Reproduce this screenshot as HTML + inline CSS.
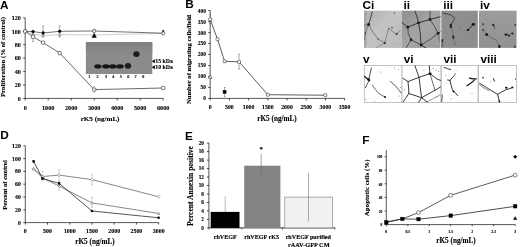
<!DOCTYPE html>
<html><head><meta charset="utf-8"><title>Figure</title>
<style>
html,body{margin:0;padding:0;background:#fff;}
svg{display:block;filter:blur(0.35px);}
.s{font-family:"Liberation Serif",serif;font-weight:bold;stroke:#000;stroke-width:0.12px;}
.h{font-family:"Liberation Sans",sans-serif;font-weight:bold;}
</style></head><body>
<svg width="520" height="247" viewBox="0 0 520 247">
<rect width="520" height="247" fill="#fff"/>
<defs><linearGradient id="gg" x1="0" y1="0" x2="0" y2="1"><stop offset="0" stop-color="#808080"/><stop offset="1" stop-color="#8c8c8c"/></linearGradient></defs>
<text x="0.1" y="8.6" font-size="11.8" text-anchor="start" class="h" >A</text>
<line x1="25.2" y1="17.9" x2="25.2" y2="98.4" stroke="#222" stroke-width="0.75" />
<line x1="23.2" y1="98.4" x2="25.2" y2="98.4" stroke="#000" stroke-width="0.7" />
<text x="20.8" y="100.7" font-size="6.1" text-anchor="end" class="s" >0</text>
<line x1="23.2" y1="85.0" x2="25.2" y2="85.0" stroke="#000" stroke-width="0.7" />
<text x="20.8" y="87.3" font-size="6.1" text-anchor="end" class="s" >20</text>
<line x1="23.2" y1="71.6" x2="25.2" y2="71.6" stroke="#000" stroke-width="0.7" />
<text x="20.8" y="73.9" font-size="6.1" text-anchor="end" class="s" >40</text>
<line x1="23.2" y1="58.1" x2="25.2" y2="58.1" stroke="#000" stroke-width="0.7" />
<text x="20.8" y="60.4" font-size="6.1" text-anchor="end" class="s" >60</text>
<line x1="23.2" y1="44.7" x2="25.2" y2="44.7" stroke="#000" stroke-width="0.7" />
<text x="20.8" y="47.0" font-size="6.1" text-anchor="end" class="s" >80</text>
<line x1="23.2" y1="31.3" x2="25.2" y2="31.3" stroke="#000" stroke-width="0.7" />
<text x="20.8" y="33.6" font-size="6.1" text-anchor="end" class="s" >100</text>
<line x1="23.2" y1="17.9" x2="25.2" y2="17.9" stroke="#000" stroke-width="0.7" />
<text x="20.8" y="20.2" font-size="6.1" text-anchor="end" class="s" >120</text>
<line x1="25.2" y1="98.4" x2="163.2" y2="98.4" stroke="#222" stroke-width="0.75" />
<line x1="25.2" y1="98.4" x2="25.2" y2="100.4" stroke="#000" stroke-width="0.7" />
<text x="25.2" y="110.0" font-size="6.2" text-anchor="middle" class="s" >0</text>
<line x1="48.2" y1="98.4" x2="48.2" y2="100.4" stroke="#000" stroke-width="0.7" />
<text x="48.2" y="110.0" font-size="6.2" text-anchor="middle" class="s" >1000</text>
<line x1="71.2" y1="98.4" x2="71.2" y2="100.4" stroke="#000" stroke-width="0.7" />
<text x="71.2" y="110.0" font-size="6.2" text-anchor="middle" class="s" >2000</text>
<line x1="94.2" y1="98.4" x2="94.2" y2="100.4" stroke="#000" stroke-width="0.7" />
<text x="94.2" y="110.0" font-size="6.2" text-anchor="middle" class="s" >3000</text>
<line x1="117.2" y1="98.4" x2="117.2" y2="100.4" stroke="#000" stroke-width="0.7" />
<text x="117.2" y="110.0" font-size="6.2" text-anchor="middle" class="s" >4000</text>
<line x1="140.2" y1="98.4" x2="140.2" y2="100.4" stroke="#000" stroke-width="0.7" />
<text x="140.2" y="110.0" font-size="6.2" text-anchor="middle" class="s" >5000</text>
<line x1="163.2" y1="98.4" x2="163.2" y2="100.4" stroke="#000" stroke-width="0.7" />
<text x="163.2" y="110.0" font-size="6.2" text-anchor="middle" class="s" >6000</text>
<text transform="translate(4.9,57.0) rotate(-90)" font-size="6.8" text-anchor="middle" class="s">Proliferation (% of control)</text>
<text x="100.1" y="121.3" font-size="7.1" text-anchor="middle" class="s" >rK5 (ng/mL)</text>
<rect x="85.9" y="42.2" width="66.4" height="31.8" fill="#8b8b8b"/>
<rect x="85.9" y="42.2" width="66.4" height="12" fill="url(#gg)"/>
<ellipse cx="97.9" cy="66.4" rx="3.5999999999999996" ry="2.1" fill="#151515"/>
<ellipse cx="105.9" cy="66.4" rx="3.6999999999999997" ry="2.1" fill="#151515"/>
<ellipse cx="112.8" cy="66.4" rx="3.6999999999999997" ry="2.1" fill="#151515"/>
<ellipse cx="120" cy="66.4" rx="3.8" ry="2.1" fill="#151515"/>
<ellipse cx="128" cy="65.8" rx="3.2" ry="2.9" fill="#1c1c1c"/>
<ellipse cx="136.4" cy="54.1" rx="3.2" ry="2.9" fill="#1c1c1c"/>
<text x="89.4" y="77.9" font-size="4.2" text-anchor="middle" class="s" >1</text>
<text x="97.5" y="77.9" font-size="4.2" text-anchor="middle" class="s" >2</text>
<text x="106.1" y="77.9" font-size="4.2" text-anchor="middle" class="s" >3</text>
<text x="113.2" y="77.9" font-size="4.2" text-anchor="middle" class="s" >4</text>
<text x="120.9" y="77.9" font-size="4.2" text-anchor="middle" class="s" >5</text>
<text x="128.2" y="77.9" font-size="4.2" text-anchor="middle" class="s" >6</text>
<text x="135.5" y="77.9" font-size="4.2" text-anchor="middle" class="s" >7</text>
<text x="143.2" y="77.9" font-size="4.2" text-anchor="middle" class="s" >8</text>
<polygon points="151.9,61.2 154.9,59.2 154.9,63.2" fill="#000"/>
<polygon points="151.9,67.3 154.9,65.3 154.9,69.3" fill="#000"/>
<text x="155.3" y="63.1" font-size="5.8" text-anchor="start" class="s" >15 kDa</text>
<text x="155.3" y="69.2" font-size="5.8" text-anchor="start" class="s" >10 kDa</text>
<polyline points="25.2,31.3 33.0,34.2 43.1,35.6 59.7,34.6 94.2,35.0 163.2,33.4" fill="none" stroke="#aaa" stroke-width="0.6" stroke-linejoin="round" stroke-linecap="round" />
<line x1="43.1" y1="26.0" x2="43.1" y2="37.0" stroke="#555" stroke-width="0.5" />
<line x1="42.2" y1="26.0" x2="44.0" y2="26.0" stroke="#555" stroke-width="0.5" />
<line x1="42.2" y1="37.0" x2="44.0" y2="37.0" stroke="#555" stroke-width="0.5" />
<line x1="59.7" y1="26.0" x2="59.7" y2="37.0" stroke="#555" stroke-width="0.5" />
<line x1="58.8" y1="26.0" x2="60.6" y2="26.0" stroke="#555" stroke-width="0.5" />
<line x1="58.8" y1="37.0" x2="60.6" y2="37.0" stroke="#555" stroke-width="0.5" />
<line x1="33.0" y1="33.0" x2="33.0" y2="41.5" stroke="#555" stroke-width="0.5" />
<line x1="32.1" y1="33.0" x2="33.9" y2="33.0" stroke="#555" stroke-width="0.5" />
<line x1="32.1" y1="41.5" x2="33.9" y2="41.5" stroke="#555" stroke-width="0.5" />
<line x1="94.2" y1="29.0" x2="94.2" y2="34.0" stroke="#888" stroke-width="0.5" />
<line x1="93.3" y1="29.0" x2="95.1" y2="29.0" stroke="#888" stroke-width="0.5" />
<line x1="93.3" y1="34.0" x2="95.1" y2="34.0" stroke="#888" stroke-width="0.5" />
<polyline points="25.2,31.3 33.0,31.6 43.1,33.0 59.7,31.3 94.2,31.0 163.2,33.2" fill="none" stroke="#333" stroke-width="0.7" stroke-linejoin="round" stroke-linecap="round" />
<line x1="94.2" y1="86.0" x2="94.2" y2="93.0" stroke="#999" stroke-width="0.5" />
<line x1="93.3" y1="86.0" x2="95.1" y2="86.0" stroke="#999" stroke-width="0.5" />
<line x1="93.3" y1="93.0" x2="95.1" y2="93.0" stroke="#999" stroke-width="0.5" />
<polyline points="25.2,31.3 33.0,36.8 43.1,42.6 59.7,53.1 94.2,89.6 163.2,88.0" fill="none" stroke="#3a3a3a" stroke-width="0.75" stroke-linejoin="round" stroke-linecap="round" />
<polygon points="25.2,29.9 23.8,32.4 26.6,32.4" fill="#ddd" stroke="#777" stroke-width="0.5"/>
<polygon points="33.0,32.8 31.6,35.3 34.4,35.3" fill="#ddd" stroke="#777" stroke-width="0.5"/>
<polygon points="43.1,34.2 41.7,36.7 44.5,36.7" fill="#ddd" stroke="#777" stroke-width="0.5"/>
<polygon points="59.7,33.2 58.3,35.7 61.1,35.7" fill="#ddd" stroke="#777" stroke-width="0.5"/>
<circle cx="25.2" cy="31.3" r="1.4" fill="#000" stroke="#000" stroke-width="0.4"/>
<circle cx="33.0" cy="31.6" r="1.4" fill="#000" stroke="#000" stroke-width="0.4"/>
<circle cx="43.1" cy="33.0" r="1.4" fill="#000" stroke="#000" stroke-width="0.4"/>
<circle cx="59.7" cy="31.3" r="1.4" fill="#000" stroke="#000" stroke-width="0.4"/>
<circle cx="94.2" cy="31.0" r="1.6" fill="#fff" stroke="#222" stroke-width="0.6"/>
<circle cx="163.2" cy="33.4" r="1.6" fill="#fff" stroke="#222" stroke-width="0.6"/>
<circle cx="163.2" cy="30.9" r="0.9" fill="#222" stroke="#222" stroke-width="0.4"/>
<polygon points="94.2,33.4 92.0,37.4 96.4,37.4" fill="#000" stroke="#000" stroke-width="0.5"/>
<rect x="23.6" y="29.7" width="3.2" height="3.2" rx="0.7" fill="#fff" stroke="#222" stroke-width="0.6"/>
<rect x="31.4" y="35.2" width="3.2" height="3.2" rx="0.7" fill="#fff" stroke="#222" stroke-width="0.6"/>
<rect x="41.5" y="41.0" width="3.2" height="3.2" rx="0.7" fill="#fff" stroke="#222" stroke-width="0.6"/>
<rect x="58.1" y="51.5" width="3.2" height="3.2" rx="0.7" fill="#fff" stroke="#222" stroke-width="0.6"/>
<rect x="92.6" y="88.0" width="3.2" height="3.2" rx="0.7" fill="#fff" stroke="#222" stroke-width="0.6"/>
<rect x="161.6" y="86.4" width="3.2" height="3.2" rx="0.7" fill="#fff" stroke="#222" stroke-width="0.6"/>
<text x="185.2" y="8.2" font-size="11.8" text-anchor="start" class="h" >B</text>
<line x1="210.2" y1="10.6" x2="210.2" y2="98.4" stroke="#222" stroke-width="0.75" />
<line x1="208.2" y1="98.4" x2="210.2" y2="98.4" stroke="#000" stroke-width="0.7" />
<text x="205.9" y="100.3" font-size="5.4" text-anchor="end" class="s" >0</text>
<line x1="208.2" y1="87.4" x2="210.2" y2="87.4" stroke="#000" stroke-width="0.7" />
<text x="205.9" y="89.3" font-size="5.4" text-anchor="end" class="s" >50</text>
<line x1="208.2" y1="76.5" x2="210.2" y2="76.5" stroke="#000" stroke-width="0.7" />
<text x="205.9" y="78.4" font-size="5.4" text-anchor="end" class="s" >100</text>
<line x1="208.2" y1="65.5" x2="210.2" y2="65.5" stroke="#000" stroke-width="0.7" />
<text x="205.9" y="67.4" font-size="5.4" text-anchor="end" class="s" >150</text>
<line x1="208.2" y1="54.5" x2="210.2" y2="54.5" stroke="#000" stroke-width="0.7" />
<text x="205.9" y="56.4" font-size="5.4" text-anchor="end" class="s" >200</text>
<line x1="208.2" y1="43.5" x2="210.2" y2="43.5" stroke="#000" stroke-width="0.7" />
<text x="205.9" y="45.4" font-size="5.4" text-anchor="end" class="s" >250</text>
<line x1="208.2" y1="32.6" x2="210.2" y2="32.6" stroke="#000" stroke-width="0.7" />
<text x="205.9" y="34.5" font-size="5.4" text-anchor="end" class="s" >300</text>
<line x1="208.2" y1="21.6" x2="210.2" y2="21.6" stroke="#000" stroke-width="0.7" />
<text x="205.9" y="23.5" font-size="5.4" text-anchor="end" class="s" >350</text>
<line x1="208.2" y1="10.6" x2="210.2" y2="10.6" stroke="#000" stroke-width="0.7" />
<text x="205.9" y="12.5" font-size="5.4" text-anchor="end" class="s" >400</text>
<line x1="210.2" y1="98.4" x2="344.6" y2="98.4" stroke="#222" stroke-width="0.75" />
<line x1="210.2" y1="98.4" x2="210.2" y2="100.4" stroke="#000" stroke-width="0.7" />
<text x="210.2" y="109.4" font-size="5.8" text-anchor="middle" class="s" >0</text>
<line x1="229.4" y1="98.4" x2="229.4" y2="100.4" stroke="#000" stroke-width="0.7" />
<text x="229.4" y="109.4" font-size="5.8" text-anchor="middle" class="s" >500</text>
<line x1="248.6" y1="98.4" x2="248.6" y2="100.4" stroke="#000" stroke-width="0.7" />
<text x="248.6" y="109.4" font-size="5.8" text-anchor="middle" class="s" >1000</text>
<line x1="267.8" y1="98.4" x2="267.8" y2="100.4" stroke="#000" stroke-width="0.7" />
<text x="267.8" y="109.4" font-size="5.8" text-anchor="middle" class="s" >1500</text>
<line x1="287.0" y1="98.4" x2="287.0" y2="100.4" stroke="#000" stroke-width="0.7" />
<text x="287.0" y="109.4" font-size="5.8" text-anchor="middle" class="s" >2000</text>
<line x1="306.2" y1="98.4" x2="306.2" y2="100.4" stroke="#000" stroke-width="0.7" />
<text x="306.2" y="109.4" font-size="5.8" text-anchor="middle" class="s" >2500</text>
<line x1="325.4" y1="98.4" x2="325.4" y2="100.4" stroke="#000" stroke-width="0.7" />
<text x="325.4" y="109.4" font-size="5.8" text-anchor="middle" class="s" >3000</text>
<line x1="344.6" y1="98.4" x2="344.6" y2="100.4" stroke="#000" stroke-width="0.7" />
<text x="344.6" y="109.4" font-size="5.8" text-anchor="middle" class="s" >3500</text>
<text transform="translate(191.0,59.4) rotate(-90)" font-size="6.7" text-anchor="middle" class="s">Number of migrating cells/field</text>
<text x="277.0" y="121.2" font-size="7.2" text-anchor="middle" class="s" >rK5 (ng/mL)</text>
<line x1="239.0" y1="54.0" x2="239.0" y2="69.0" stroke="#555" stroke-width="0.5" />
<line x1="238.1" y1="54.0" x2="239.9" y2="54.0" stroke="#555" stroke-width="0.5" />
<line x1="238.1" y1="69.0" x2="239.9" y2="69.0" stroke="#555" stroke-width="0.5" />
<line x1="210.2" y1="14.5" x2="210.2" y2="24.0" stroke="#666" stroke-width="0.5" />
<line x1="209.3" y1="14.5" x2="211.1" y2="14.5" stroke="#666" stroke-width="0.5" />
<line x1="209.3" y1="24.0" x2="211.1" y2="24.0" stroke="#666" stroke-width="0.5" />
<polyline points="210.2,19.3 217.5,39.2 224.6,61.3 239.0,61.8 267.8,94.7 325.4,95.2" fill="none" stroke="#333" stroke-width="0.8" stroke-linejoin="round" stroke-linecap="round" />
<rect x="208.7" y="17.8" width="3.0" height="3.0" rx="0.7" fill="#fff" stroke="#333" stroke-width="0.6"/>
<rect x="216.0" y="37.7" width="3.0" height="3.0" rx="0.7" fill="#fff" stroke="#333" stroke-width="0.6"/>
<rect x="223.1" y="59.8" width="3.0" height="3.0" rx="0.7" fill="#fff" stroke="#333" stroke-width="0.6"/>
<rect x="237.5" y="60.3" width="3.0" height="3.0" rx="0.7" fill="#fff" stroke="#333" stroke-width="0.6"/>
<rect x="266.3" y="93.2" width="3.0" height="3.0" rx="0.7" fill="#fff" stroke="#333" stroke-width="0.6"/>
<rect x="323.9" y="93.7" width="3.0" height="3.0" rx="0.7" fill="#fff" stroke="#333" stroke-width="0.6"/>
<polygon points="210.2,75.0 208.4,78.2 212.0,78.2" fill="#fff" stroke="#333" stroke-width="0.6"/>
<line x1="224.6" y1="87.5" x2="224.6" y2="96.5" stroke="#555" stroke-width="0.5" />
<line x1="223.7" y1="87.5" x2="225.5" y2="87.5" stroke="#555" stroke-width="0.5" />
<line x1="223.7" y1="96.5" x2="225.5" y2="96.5" stroke="#555" stroke-width="0.5" />
<rect x="223.1" y="90.4" width="3.0" height="3.0" fill="#000" stroke="#000" stroke-width="0.5"/>
<text x="362.6" y="9.1" font-size="11.8" text-anchor="start" class="h" >Ci</text>
<text x="403.4" y="9.1" font-size="11.8" text-anchor="start" class="h" >ii</text>
<text x="443.2" y="9.1" font-size="11.8" text-anchor="start" class="h" >iii</text>
<text x="480.1" y="9.1" font-size="11.8" text-anchor="start" class="h" >iv</text>
<text x="362.9" y="62.7" font-size="11.8" text-anchor="start" class="h" >v</text>
<text x="403.8" y="62.7" font-size="11.8" text-anchor="start" class="h" >vi</text>
<text x="443.5" y="62.7" font-size="11.8" text-anchor="start" class="h" >vii</text>
<text x="480.4" y="62.7" font-size="11.8" text-anchor="start" class="h" >viii</text>
<defs>
<linearGradient id="g1" x1="0" y1="0" x2="1" y2="1"><stop offset="0" stop-color="#adadad"/><stop offset="0.45" stop-color="#c4c4c4"/><stop offset="1" stop-color="#b9b9b9"/></linearGradient>
<linearGradient id="g2" x1="0" y1="0" x2="1" y2="1"><stop offset="0" stop-color="#8e8e8e"/><stop offset="0.5" stop-color="#a5a5a5"/><stop offset="1" stop-color="#9b9b9b"/></linearGradient>
<linearGradient id="g4" x1="0" y1="0" x2="0" y2="1"><stop offset="0" stop-color="#9c9c9c"/><stop offset="1" stop-color="#919191"/></linearGradient>
<filter id="bl" x="-5%" y="-5%" width="110%" height="110%"><feGaussianBlur stdDeviation="0.45"/></filter>
<clipPath id="c1"><rect x="364" y="10.7" width="37.8" height="37.2"/></clipPath>
<clipPath id="c2"><rect x="401.8" y="10.7" width="38.7" height="37.2"/></clipPath>
<clipPath id="c3"><rect x="441.3" y="10.7" width="36.5" height="37.2"/></clipPath>
<clipPath id="c4"><rect x="478.9" y="10.7" width="37.7" height="37.2"/></clipPath>
<clipPath id="c5"><rect x="364" y="65.5" width="38" height="37"/></clipPath>
<clipPath id="c6"><rect x="402" y="65.5" width="38.8" height="37"/></clipPath>
<clipPath id="c7"><rect x="441.3" y="65.5" width="36.7" height="37"/></clipPath>
<clipPath id="c8"><rect x="478.9" y="65.5" width="37.7" height="37"/></clipPath>
</defs>
<rect x="364" y="10.7" width="37.8" height="37.2" fill="url(#g1)"/>
<rect x="401.8" y="10.7" width="38.7" height="37.2" fill="url(#g2)"/>
<rect x="441.3" y="10.7" width="36.5" height="37.2" fill="#8e8e8e"/>
<rect x="478.9" y="10.7" width="37.7" height="37.2" fill="url(#g4)"/>
<g clip-path="url(#c1)" filter="url(#bl)">
<rect x="364" y="10.7" width="2.5" height="37.2" fill="#999" opacity="0.55"/>
<polyline points="372.2,12.0 370.3,19.0 368.6,24.4" fill="none" stroke="#444" stroke-width="1.0" stroke-linejoin="round" stroke-linecap="round" />
<polyline points="368.6,24.4 366.8,29.0 365.2,33.3 364.6,40.0" fill="none" stroke="#666" stroke-width="0.8" stroke-linejoin="round" stroke-linecap="round" />
<polyline points="368.6,24.4 371.5,30.0 375.0,35.0 378.2,39.0 384.7,43.0" fill="none" stroke="#707070" stroke-width="0.8" stroke-linejoin="round" stroke-linecap="round" />
<polyline points="384.7,43.0 386.8,35.0 388.7,28.4" fill="none" stroke="#777" stroke-width="0.8" stroke-linejoin="round" stroke-linecap="round" />
<polyline points="388.7,28.4 392.5,31.5 396.8,34.1 400.0,30.5" fill="none" stroke="#707070" stroke-width="0.8" stroke-linejoin="round" stroke-linecap="round" />
<polyline points="384.7,43.0 380.0,45.5 376.0,48.0" fill="none" stroke="#808080" stroke-width="0.7" stroke-linejoin="round" stroke-linecap="round" />
<polyline points="364.0,25.5 368.6,24.4" fill="none" stroke="#666" stroke-width="0.8" stroke-linejoin="round" stroke-linecap="round" />
<ellipse cx="368.6" cy="24.4" rx="1.4" ry="1.7" fill="#1a1a1a"/>
<ellipse cx="384.7" cy="43.0" rx="1.1" ry="1.1" fill="#222"/>
<ellipse cx="396.8" cy="34.1" rx="1.2" ry="1.0" fill="#444"/>
<ellipse cx="394.4" cy="13.2" rx="0.8" ry="0.8" fill="#555"/>
<ellipse cx="365.4" cy="33.0" rx="0.8" ry="1.2" fill="#555"/>
<ellipse cx="378.0" cy="39.0" rx="0.8" ry="0.8" fill="#555"/>
<ellipse cx="392.0" cy="27.6" rx="0.9" ry="0.9" fill="#555"/>
<ellipse cx="366.0" cy="43.0" rx="0.7" ry="0.7" fill="#888"/>
<ellipse cx="388.7" cy="28.4" rx="0.7" ry="0.7" fill="#666"/>
</g>
<g clip-path="url(#c2)" filter="url(#bl)">
<polyline points="402.0,22.5 407.8,27.2 418.6,22.8 430.0,19.5 441.0,16.5" fill="none" stroke="#333" stroke-width="1.0" stroke-linejoin="round" stroke-linecap="round" />
<polyline points="414.9,11.0 417.0,17.0 418.6,22.8 420.2,33.0 421.1,45.0" fill="none" stroke="#3a3a3a" stroke-width="1.0" stroke-linejoin="round" stroke-linecap="round" />
<polyline points="407.8,27.2 408.2,33.3 411.0,39.8 406.5,47.5" fill="none" stroke="#444" stroke-width="0.9" stroke-linejoin="round" stroke-linecap="round" />
<polyline points="411.0,39.8 421.1,45.0 430.8,39.0 438.1,33.3 441.0,31.0" fill="none" stroke="#444" stroke-width="0.9" stroke-linejoin="round" stroke-linecap="round" />
<polyline points="430.0,19.5 434.8,26.8 438.1,33.3" fill="none" stroke="#444" stroke-width="0.9" stroke-linejoin="round" stroke-linecap="round" />
<polyline points="430.0,11.0 430.0,19.5" fill="none" stroke="#444" stroke-width="0.9" stroke-linejoin="round" stroke-linecap="round" />
<polyline points="421.1,45.0 426.0,48.0" fill="none" stroke="#333" stroke-width="1.0" stroke-linejoin="round" stroke-linecap="round" />
<polyline points="438.1,33.3 440.0,42.0" fill="none" stroke="#666" stroke-width="0.7" stroke-linejoin="round" stroke-linecap="round" />
<ellipse cx="407.8" cy="27.2" rx="1.4" ry="1.4" fill="#1a1a1a"/>
<ellipse cx="418.6" cy="22.8" rx="1.4" ry="1.4" fill="#1a1a1a"/>
<ellipse cx="430.0" cy="19.5" rx="1.4" ry="1.4" fill="#1a1a1a"/>
<ellipse cx="438.1" cy="33.3" rx="1.4" ry="1.4" fill="#1a1a1a"/>
<ellipse cx="421.1" cy="45.0" rx="1.4" ry="1.4" fill="#1a1a1a"/>
<ellipse cx="411.0" cy="39.8" rx="1.4" ry="1.4" fill="#1a1a1a"/>
</g>
<g clip-path="url(#c3)" filter="url(#bl)">
<polyline points="443.1,13.1 447.0,13.8 450.8,15.1 455.0,18.2 452.5,22.0 450.8,25.9" fill="none" stroke="#3a3a3a" stroke-width="0.9" stroke-linejoin="round" stroke-linecap="round" />
<polyline points="450.8,25.9 452.5,32.0 453.3,36.9 454.2,42.0" fill="none" stroke="#666" stroke-width="0.7" stroke-linejoin="round" stroke-linecap="round" />
<polyline points="473.7,24.2 467.8,30.1" fill="none" stroke="#2a2a2a" stroke-width="1.0" stroke-linejoin="round" stroke-linecap="round" />
<polyline points="442.3,40.3 441.8,47.0" fill="none" stroke="#3a3a3a" stroke-width="1.0" stroke-linejoin="round" stroke-linecap="round" />
<ellipse cx="450.8" cy="26.0" rx="1.2" ry="2.2" fill="#1a1a1a"/>
<ellipse cx="453.3" cy="37.0" rx="1.1" ry="1.8" fill="#222"/>
<ellipse cx="473.3" cy="24.4" rx="1.8" ry="1.4" fill="#1a1a1a"/>
<ellipse cx="468.0" cy="30.0" rx="1.4" ry="1.1" fill="#1a1a1a"/>
<ellipse cx="442.4" cy="40.5" rx="0.9" ry="1.4" fill="#222"/>
<ellipse cx="472.0" cy="39.5" rx="1.2" ry="1" fill="#7c7c7c"/>
<ellipse cx="460.0" cy="28.0" rx="0.8" ry="0.8" fill="#7a7a7a"/>
<ellipse cx="455.0" cy="44.0" rx="0.6" ry="1.5" fill="#6a6a6a"/>
</g>
<g clip-path="url(#c4)" filter="url(#bl)">
<polyline points="483.1,30.1 486.5,34.4 491.0,37.5 496.7,40.3 498.0,43.0 499.3,46.3" fill="none" stroke="#666" stroke-width="0.8" stroke-linejoin="round" stroke-linecap="round" />
<polyline points="493.3,25.0 494.8,28.5" fill="none" stroke="#444" stroke-width="0.8" stroke-linejoin="round" stroke-linecap="round" />
<ellipse cx="483.1" cy="24.2" rx="0.8" ry="1.2" fill="#444"/>
<ellipse cx="483.1" cy="30.1" rx="1.1" ry="1.0" fill="#444"/>
<ellipse cx="486.7" cy="34.6" rx="1.4" ry="1.5" fill="#1a1a1a"/>
<ellipse cx="493.3" cy="25.0" rx="1" ry="1.3" fill="#1a1a1a"/>
<ellipse cx="499.3" cy="46.5" rx="1.2" ry="1.4" fill="#1a1a1a"/>
<ellipse cx="506.1" cy="34.6" rx="1.6" ry="1.2" fill="#1a1a1a"/>
<ellipse cx="509.0" cy="35.5" rx="1.2" ry="1" fill="#222"/>
<ellipse cx="512.3" cy="33.4" rx="1.2" ry="1" fill="#222"/>
<ellipse cx="515.2" cy="25.0" rx="0.9" ry="1" fill="#333"/>
<ellipse cx="514.8" cy="46.8" rx="1" ry="1" fill="#333"/>
</g>
<rect x="364.3" y="65.4" width="37.7" height="37.0" fill="#fff" stroke="#b0b0b0" stroke-width="0.75"/>
<rect x="402" y="65.4" width="38.9" height="37.0" fill="#fff" stroke="#b0b0b0" stroke-width="0.75"/>
<rect x="441.3" y="65.4" width="36.7" height="37.0" fill="#fff" stroke="#b0b0b0" stroke-width="0.75"/>
<rect x="478.6" y="65.4" width="38.0" height="37.0" fill="#fff" stroke="#b0b0b0" stroke-width="0.75"/>
<g clip-path="url(#c5)">
<polyline points="371.4,68.0 370.0,74.0 368.8,79.5" fill="none" stroke="#222" stroke-width="0.8" stroke-linejoin="round" stroke-linecap="round" />
<polyline points="364.5,76.5 367.0,78.6 369.7,80.7" fill="none" stroke="#111" stroke-width="1.3" stroke-linejoin="round" stroke-linecap="round" />
<polyline points="369.2,80.5 367.0,84.5 365.4,87.8" fill="none" stroke="#333" stroke-width="0.8" stroke-linejoin="round" stroke-linecap="round" />
<polyline points="372.2,85.0 375.0,89.0 379.0,93.5 382.0,95.5 385.0,96.9" fill="none" stroke="#444" stroke-width="0.8" stroke-linejoin="round" stroke-linecap="round" stroke-dasharray="1.6 0.7"/>
<polyline points="390.2,81.3 396.0,86.3 401.0,92.9" fill="none" stroke="#444" stroke-width="0.8" stroke-linejoin="round" stroke-linecap="round" stroke-dasharray="2.2 0.5"/>
<ellipse cx="368.6" cy="79.4" rx="1.3" ry="1.5" fill="#111"/>
<ellipse cx="385.0" cy="97.0" rx="1" ry="1" fill="#111"/>
<ellipse cx="394.3" cy="68.0" rx="0.5" ry="0.5" fill="#666"/>
<ellipse cx="398.5" cy="69.7" rx="0.5" ry="0.5" fill="#666"/>
<ellipse cx="400.3" cy="87.5" rx="0.5" ry="0.5" fill="#666"/>
<ellipse cx="401.0" cy="92.5" rx="0.5" ry="0.5" fill="#666"/>
<ellipse cx="374.8" cy="102.0" rx="0.5" ry="0.5" fill="#666"/>
<ellipse cx="366.0" cy="99.0" rx="0.5" ry="0.5" fill="#666"/>
<ellipse cx="399.0" cy="96.0" rx="0.5" ry="0.5" fill="#666"/>
<ellipse cx="381.0" cy="72.0" rx="0.5" ry="0.5" fill="#666"/>
</g>
<g clip-path="url(#c6)">
<polyline points="402.9,78.2 408.0,81.6 419.0,77.3 430.0,73.6 436.9,79.0 442.0,81.0" fill="none" stroke="#222" stroke-width="0.9" stroke-linejoin="round" stroke-linecap="round" />
<polyline points="414.8,65.4 419.0,77.3 420.3,88.0 421.6,97.7" fill="none" stroke="#222" stroke-width="0.9" stroke-linejoin="round" stroke-linecap="round" />
<polyline points="408.0,81.6 408.6,88.0 408.8,93.5 405.4,98.6 403.0,102.0" fill="none" stroke="#222" stroke-width="0.9" stroke-linejoin="round" stroke-linecap="round" />
<polyline points="408.8,93.5 421.6,97.7 436.9,89.2 442.0,86.0" fill="none" stroke="#222" stroke-width="0.9" stroke-linejoin="round" stroke-linecap="round" />
<polyline points="429.2,65.4 430.0,73.6" fill="none" stroke="#222" stroke-width="0.9" stroke-linejoin="round" stroke-linecap="round" />
<polyline points="430.0,73.6 432.6,82.4 435.2,91.0" fill="none" stroke="#444" stroke-width="0.8" stroke-linejoin="round" stroke-linecap="round" stroke-dasharray="1.5 0.8"/>
<polyline points="421.6,97.7 428.4,102.9" fill="none" stroke="#222" stroke-width="0.9" stroke-linejoin="round" stroke-linecap="round" />
<polyline points="421.6,97.7 418.2,102.9" fill="none" stroke="#222" stroke-width="0.9" stroke-linejoin="round" stroke-linecap="round" />
<polyline points="426.0,102.5 434.0,98.0 442.0,94.0" fill="none" stroke="#555" stroke-width="0.6" stroke-linejoin="round" stroke-linecap="round" />
<ellipse cx="430.0" cy="73.8" rx="1.6" ry="1.2" fill="#111"/>
<ellipse cx="424.0" cy="70.0" rx="0.5" ry="0.5" fill="#666"/>
<ellipse cx="436.0" cy="70.0" rx="0.5" ry="0.5" fill="#666"/>
<ellipse cx="438.5" cy="71.5" rx="0.5" ry="0.5" fill="#666"/>
<ellipse cx="433.0" cy="68.5" rx="0.5" ry="0.5" fill="#666"/>
<ellipse cx="404.5" cy="90.0" rx="0.5" ry="0.5" fill="#666"/>
<ellipse cx="437.0" cy="97.0" rx="0.5" ry="0.5" fill="#666"/>
</g>
<g clip-path="url(#c7)">
<polyline points="444.0,67.4 447.5,68.6 450.8,69.7" fill="none" stroke="#222" stroke-width="0.9" stroke-linejoin="round" stroke-linecap="round" />
<polyline points="454.2,75.6 452.0,78.0 449.9,80.4 451.2,85.5 452.5,90.1 455.0,92.6 457.6,95.6" fill="none" stroke="#222" stroke-width="0.9" stroke-linejoin="round" stroke-linecap="round" />
<polyline points="447.5,80.0 450.2,80.4" fill="none" stroke="#222" stroke-width="0.9" stroke-linejoin="round" stroke-linecap="round" />
<polyline points="469.5,78.2 473.0,78.8 476.3,78.8" fill="none" stroke="#111" stroke-width="1.3" stroke-linejoin="round" stroke-linecap="round" />
<polyline points="474.6,79.9 471.0,83.0 466.9,85.8" fill="none" stroke="#111" stroke-width="1.1" stroke-linejoin="round" stroke-linecap="round" />
<polyline points="442.3,95.2 441.6,102.0" fill="none" stroke="#333" stroke-width="0.9" stroke-linejoin="round" stroke-linecap="round" />
<ellipse cx="455.0" cy="73.9" rx="0.7" ry="0.7" fill="#333"/>
<ellipse cx="445.7" cy="75.3" rx="0.5" ry="0.5" fill="#777"/>
<ellipse cx="453.5" cy="91.5" rx="1" ry="1" fill="#111"/>
<ellipse cx="456.0" cy="70.0" rx="0.5" ry="0.5" fill="#888"/>
<ellipse cx="446.0" cy="83.0" rx="0.7" ry="0.7" fill="#bbb"/>
<ellipse cx="472.0" cy="93.5" rx="0.7" ry="0.7" fill="#bbb"/>
<ellipse cx="451.0" cy="99.0" rx="0.7" ry="0.7" fill="#bbb"/>
</g>
<g clip-path="url(#c8)">
<polyline points="479.7,83.3 483.0,85.3 486.5,87.5 492.0,91.0 497.6,94.3 498.6,98.0 499.3,102.0" fill="none" stroke="#222" stroke-width="0.9" stroke-linejoin="round" stroke-linecap="round" />
<polyline points="479.5,84.6 484.0,88.0 489.0,90.6" fill="none" stroke="#333" stroke-width="0.6" stroke-linejoin="round" stroke-linecap="round" />
<polyline points="497.6,94.3 501.5,92.0 505.2,90.1 509.0,88.8 512.9,87.5" fill="none" stroke="#222" stroke-width="0.9" stroke-linejoin="round" stroke-linecap="round" />
<polyline points="493.3,78.6 494.5,81.0" fill="none" stroke="#222" stroke-width="1.0" stroke-linejoin="round" stroke-linecap="round" />
<ellipse cx="483.1" cy="77.7" rx="0.7" ry="0.9" fill="#222"/>
<ellipse cx="506.3" cy="87.8" rx="1.3" ry="1" fill="#111"/>
<ellipse cx="512.3" cy="87.4" rx="1" ry="0.9" fill="#111"/>
<ellipse cx="515.6" cy="79.0" rx="0.5" ry="0.9" fill="#555"/>
<ellipse cx="499.4" cy="101.5" rx="0.8" ry="1.2" fill="#111"/>
<ellipse cx="490.5" cy="82.0" rx="0.7" ry="0.7" fill="#ccc"/>
</g>
<text x="0.2" y="139.3" font-size="11.8" text-anchor="start" class="h" >D</text>
<line x1="25.3" y1="145.8" x2="25.3" y2="222.6" stroke="#222" stroke-width="0.75" />
<line x1="23.3" y1="222.6" x2="25.3" y2="222.6" stroke="#000" stroke-width="0.7" />
<text x="20.8" y="224.5" font-size="5.8" text-anchor="end" class="s" >0</text>
<line x1="23.3" y1="209.8" x2="25.3" y2="209.8" stroke="#000" stroke-width="0.7" />
<text x="20.8" y="211.7" font-size="5.8" text-anchor="end" class="s" >20</text>
<line x1="23.3" y1="197.0" x2="25.3" y2="197.0" stroke="#000" stroke-width="0.7" />
<text x="20.8" y="198.9" font-size="5.8" text-anchor="end" class="s" >40</text>
<line x1="23.3" y1="184.2" x2="25.3" y2="184.2" stroke="#000" stroke-width="0.7" />
<text x="20.8" y="186.1" font-size="5.8" text-anchor="end" class="s" >60</text>
<line x1="23.3" y1="171.4" x2="25.3" y2="171.4" stroke="#000" stroke-width="0.7" />
<text x="20.8" y="173.3" font-size="5.8" text-anchor="end" class="s" >80</text>
<line x1="23.3" y1="158.6" x2="25.3" y2="158.6" stroke="#000" stroke-width="0.7" />
<text x="20.8" y="160.5" font-size="5.8" text-anchor="end" class="s" >100</text>
<line x1="23.3" y1="145.8" x2="25.3" y2="145.8" stroke="#000" stroke-width="0.7" />
<text x="20.8" y="147.7" font-size="5.8" text-anchor="end" class="s" >120</text>
<line x1="25.3" y1="222.6" x2="158.7" y2="222.6" stroke="#222" stroke-width="0.75" />
<line x1="25.3" y1="222.6" x2="25.3" y2="224.6" stroke="#000" stroke-width="0.7" />
<text x="25.3" y="233.3" font-size="5.9" text-anchor="middle" class="s" >0</text>
<line x1="47.5" y1="222.6" x2="47.5" y2="224.6" stroke="#000" stroke-width="0.7" />
<text x="47.5" y="233.3" font-size="5.9" text-anchor="middle" class="s" >500</text>
<line x1="69.8" y1="222.6" x2="69.8" y2="224.6" stroke="#000" stroke-width="0.7" />
<text x="69.8" y="233.3" font-size="5.9" text-anchor="middle" class="s" >1000</text>
<line x1="92.0" y1="222.6" x2="92.0" y2="224.6" stroke="#000" stroke-width="0.7" />
<text x="92.0" y="233.3" font-size="5.9" text-anchor="middle" class="s" >1500</text>
<line x1="114.2" y1="222.6" x2="114.2" y2="224.6" stroke="#000" stroke-width="0.7" />
<text x="114.2" y="233.3" font-size="5.9" text-anchor="middle" class="s" >2000</text>
<line x1="136.4" y1="222.6" x2="136.4" y2="224.6" stroke="#000" stroke-width="0.7" />
<text x="136.4" y="233.3" font-size="5.9" text-anchor="middle" class="s" >2500</text>
<line x1="158.7" y1="222.6" x2="158.7" y2="224.6" stroke="#000" stroke-width="0.7" />
<text x="158.7" y="233.3" font-size="5.9" text-anchor="middle" class="s" >3000</text>
<text transform="translate(6.8,184.9) rotate(-90)" font-size="6.5" text-anchor="middle" class="s">Percent of control</text>
<text x="95.0" y="244.3" font-size="7.2" text-anchor="middle" class="s" >rK5 (ng/mL)</text>
<line x1="59.1" y1="169.6" x2="59.1" y2="181.4" stroke="#bbb" stroke-width="0.7" />
<line x1="58.2" y1="169.6" x2="60.0" y2="169.6" stroke="#bbb" stroke-width="0.7" />
<line x1="58.2" y1="181.4" x2="60.0" y2="181.4" stroke="#bbb" stroke-width="0.7" />
<line x1="42.6" y1="171.4" x2="42.6" y2="180.5" stroke="#bbb" stroke-width="0.7" />
<line x1="41.7" y1="171.4" x2="43.5" y2="171.4" stroke="#bbb" stroke-width="0.7" />
<line x1="41.7" y1="180.5" x2="43.5" y2="180.5" stroke="#bbb" stroke-width="0.7" />
<line x1="92.0" y1="174.0" x2="92.0" y2="185.0" stroke="#bbb" stroke-width="0.7" />
<line x1="91.1" y1="174.0" x2="92.9" y2="174.0" stroke="#bbb" stroke-width="0.7" />
<line x1="91.1" y1="185.0" x2="92.9" y2="185.0" stroke="#bbb" stroke-width="0.7" />
<line x1="92.0" y1="197.5" x2="92.0" y2="207.5" stroke="#bbb" stroke-width="0.7" />
<line x1="91.1" y1="197.5" x2="92.9" y2="197.5" stroke="#bbb" stroke-width="0.7" />
<line x1="91.1" y1="207.5" x2="92.9" y2="207.5" stroke="#bbb" stroke-width="0.7" />
<line x1="59.1" y1="181.0" x2="59.1" y2="190.0" stroke="#bbb" stroke-width="0.7" />
<line x1="58.2" y1="181.0" x2="60.0" y2="181.0" stroke="#bbb" stroke-width="0.7" />
<line x1="58.2" y1="190.0" x2="60.0" y2="190.0" stroke="#bbb" stroke-width="0.7" />
<polyline points="33.7,168.9 42.6,176.5 59.1,175.1 92.0,179.6 158.7,196.8" fill="none" stroke="#555" stroke-width="0.7" stroke-linejoin="round" stroke-linecap="round" />
<polyline points="33.7,168.9 42.6,178.0 59.1,186.0 92.0,202.9 158.7,213.5" fill="none" stroke="#555" stroke-width="0.7" stroke-linejoin="round" stroke-linecap="round" />
<polyline points="33.7,161.6 42.6,178.5 59.1,183.4 92.0,211.0 158.7,217.8" fill="none" stroke="#1a1a1a" stroke-width="0.75" stroke-linejoin="round" stroke-linecap="round" />
<polygon points="33.7,167.4 32.2,168.9 33.7,170.4 35.2,168.9" fill="#fff" stroke="#666" stroke-width="0.5"/>
<polygon points="42.6,175.0 41.1,176.5 42.6,178.0 44.1,176.5" fill="#fff" stroke="#666" stroke-width="0.5"/>
<polygon points="59.1,173.6 57.6,175.1 59.1,176.6 60.6,175.1" fill="#fff" stroke="#666" stroke-width="0.5"/>
<polygon points="92.0,178.1 90.5,179.6 92.0,181.1 93.5,179.6" fill="#fff" stroke="#666" stroke-width="0.5"/>
<polygon points="158.7,195.3 157.2,196.8 158.7,198.3 160.2,196.8" fill="#fff" stroke="#666" stroke-width="0.5"/>
<polygon points="33.7,167.6 32.4,169.9 35.0,169.9" fill="#fff" stroke="#666" stroke-width="0.5"/>
<polygon points="42.6,176.7 41.3,179.0 43.9,179.0" fill="#fff" stroke="#666" stroke-width="0.5"/>
<polygon points="59.1,184.7 57.8,187.0 60.4,187.0" fill="#fff" stroke="#666" stroke-width="0.5"/>
<polygon points="92.0,201.6 90.7,203.9 93.3,203.9" fill="#fff" stroke="#666" stroke-width="0.5"/>
<polygon points="158.7,212.2 157.4,214.5 160.0,214.5" fill="#fff" stroke="#666" stroke-width="0.5"/>
<rect x="32.8" y="160.7" width="1.8" height="1.8" fill="#000" stroke="#000" stroke-width="0.5"/>
<rect x="41.7" y="177.6" width="1.8" height="1.8" fill="#000" stroke="#000" stroke-width="0.5"/>
<rect x="58.2" y="182.5" width="1.8" height="1.8" fill="#000" stroke="#000" stroke-width="0.5"/>
<rect x="91.1" y="210.1" width="1.8" height="1.8" fill="#000" stroke="#000" stroke-width="0.5"/>
<rect x="157.8" y="216.9" width="1.8" height="1.8" fill="#000" stroke="#000" stroke-width="0.5"/>
<text x="185.0" y="139.8" font-size="11.8" text-anchor="start" class="h" >E</text>
<line x1="208.9" y1="143.1" x2="208.9" y2="227.9" stroke="#222" stroke-width="0.75" />
<line x1="206.9" y1="227.9" x2="208.9" y2="227.9" stroke="#000" stroke-width="0.7" />
<text x="203.9" y="229.7" font-size="5.2" text-anchor="end" class="s" >0</text>
<line x1="206.9" y1="219.4" x2="208.9" y2="219.4" stroke="#000" stroke-width="0.7" />
<text x="203.9" y="221.2" font-size="5.2" text-anchor="end" class="s" >2</text>
<line x1="206.9" y1="210.9" x2="208.9" y2="210.9" stroke="#000" stroke-width="0.7" />
<text x="203.9" y="212.7" font-size="5.2" text-anchor="end" class="s" >4</text>
<line x1="206.9" y1="202.5" x2="208.9" y2="202.5" stroke="#000" stroke-width="0.7" />
<text x="203.9" y="204.3" font-size="5.2" text-anchor="end" class="s" >6</text>
<line x1="206.9" y1="194.0" x2="208.9" y2="194.0" stroke="#000" stroke-width="0.7" />
<text x="203.9" y="195.8" font-size="5.2" text-anchor="end" class="s" >8</text>
<line x1="206.9" y1="185.5" x2="208.9" y2="185.5" stroke="#000" stroke-width="0.7" />
<text x="203.9" y="187.3" font-size="5.2" text-anchor="end" class="s" >10</text>
<line x1="206.9" y1="177.0" x2="208.9" y2="177.0" stroke="#000" stroke-width="0.7" />
<text x="203.9" y="178.8" font-size="5.2" text-anchor="end" class="s" >12</text>
<line x1="206.9" y1="168.5" x2="208.9" y2="168.5" stroke="#000" stroke-width="0.7" />
<text x="203.9" y="170.3" font-size="5.2" text-anchor="end" class="s" >14</text>
<line x1="206.9" y1="160.1" x2="208.9" y2="160.1" stroke="#000" stroke-width="0.7" />
<text x="203.9" y="161.9" font-size="5.2" text-anchor="end" class="s" >16</text>
<line x1="206.9" y1="151.6" x2="208.9" y2="151.6" stroke="#000" stroke-width="0.7" />
<text x="203.9" y="153.4" font-size="5.2" text-anchor="end" class="s" >18</text>
<line x1="206.9" y1="143.1" x2="208.9" y2="143.1" stroke="#000" stroke-width="0.7" />
<text x="203.9" y="144.9" font-size="5.2" text-anchor="end" class="s" >20</text>
<line x1="208.9" y1="227.9" x2="335.0" y2="227.9" stroke="#000" stroke-width="0.8" />
<line x1="208.9" y1="227.9" x2="208.9" y2="229.5" stroke="#000" stroke-width="0.6" />
<line x1="241.8" y1="227.9" x2="241.8" y2="229.5" stroke="#000" stroke-width="0.6" />
<line x1="282.6" y1="227.9" x2="282.6" y2="229.5" stroke="#000" stroke-width="0.6" />
<line x1="335.0" y1="227.9" x2="335.0" y2="229.5" stroke="#000" stroke-width="0.6" />
<text transform="translate(192.6,186.1) rotate(-90)" font-size="7.55" text-anchor="middle" class="s">Percent Annexin positive</text>
<line x1="225.2" y1="196.3" x2="225.2" y2="212.0" stroke="#888" stroke-width="0.6" />
<rect x="210.7" y="211.9" width="28.8" height="16.0" fill="#000"/>
<rect x="244.2" y="165.7" width="36.2" height="62.2" fill="#848484"/>
<line x1="261.2" y1="153.9" x2="261.2" y2="177.8" stroke="#666" stroke-width="0.6" />
<rect x="284.8" y="197.1" width="47.6" height="30.8" fill="#f1f1f1" stroke="#777" stroke-width="0.6"/>
<line x1="308.5" y1="172.7" x2="308.5" y2="221.4" stroke="#777" stroke-width="0.6" />
<text x="261.2" y="150.5" font-size="7" text-anchor="middle" class="s" >*</text>
<text x="225.2" y="239.1" font-size="6.1" text-anchor="middle" class="s" >rhVEGF</text>
<text x="261.6" y="239.1" font-size="6.1" text-anchor="middle" class="s" >rhVEGF rK5</text>
<text x="308.3" y="239.1" font-size="6.1" text-anchor="middle" class="s" >rhVEGF purified</text>
<text x="308.8" y="246.6" font-size="6.3" text-anchor="middle" class="s" >rAAV-GFP CM</text>
<text x="362.2" y="143.8" font-size="11.8" text-anchor="start" class="h" >F</text>
<line x1="386.3" y1="150.1" x2="386.3" y2="224.6" stroke="#222" stroke-width="0.75" />
<line x1="384.7" y1="224.6" x2="386.3" y2="224.6" stroke="#000" stroke-width="0.7" />
<text x="382.4" y="226.4" font-size="3.6" text-anchor="end" class="s" >0</text>
<line x1="384.7" y1="211.0" x2="386.3" y2="211.0" stroke="#000" stroke-width="0.7" />
<text x="382.4" y="212.8" font-size="3.6" text-anchor="end" class="s" >20</text>
<line x1="384.7" y1="197.4" x2="386.3" y2="197.4" stroke="#000" stroke-width="0.7" />
<text x="382.4" y="199.2" font-size="3.6" text-anchor="end" class="s" >40</text>
<line x1="384.7" y1="183.8" x2="386.3" y2="183.8" stroke="#000" stroke-width="0.7" />
<text x="382.4" y="185.6" font-size="3.6" text-anchor="end" class="s" >60</text>
<line x1="384.7" y1="170.2" x2="386.3" y2="170.2" stroke="#000" stroke-width="0.7" />
<text x="382.4" y="172.0" font-size="3.6" text-anchor="end" class="s" >80</text>
<line x1="384.7" y1="156.6" x2="386.3" y2="156.6" stroke="#000" stroke-width="0.7" />
<text x="382.4" y="158.4" font-size="3.6" text-anchor="end" class="s" >100</text>
<line x1="386.3" y1="224.6" x2="515.2" y2="224.6" stroke="#222" stroke-width="0.75" />
<line x1="386.3" y1="224.6" x2="386.3" y2="226.2" stroke="#000" stroke-width="0.7" />
<text x="386.3" y="232.5" font-size="3.8" text-anchor="middle" class="s" >0</text>
<line x1="407.8" y1="224.6" x2="407.8" y2="226.2" stroke="#000" stroke-width="0.7" />
<text x="407.8" y="232.5" font-size="3.8" text-anchor="middle" class="s" >0.5</text>
<line x1="429.2" y1="224.6" x2="429.2" y2="226.2" stroke="#000" stroke-width="0.7" />
<text x="429.2" y="232.5" font-size="3.8" text-anchor="middle" class="s" >1</text>
<line x1="450.7" y1="224.6" x2="450.7" y2="226.2" stroke="#000" stroke-width="0.7" />
<text x="450.7" y="232.5" font-size="3.8" text-anchor="middle" class="s" >1.5</text>
<line x1="472.2" y1="224.6" x2="472.2" y2="226.2" stroke="#000" stroke-width="0.7" />
<text x="472.2" y="232.5" font-size="3.8" text-anchor="middle" class="s" >2</text>
<line x1="493.7" y1="224.6" x2="493.7" y2="226.2" stroke="#000" stroke-width="0.7" />
<text x="493.7" y="232.5" font-size="3.8" text-anchor="middle" class="s" >2.5</text>
<line x1="515.2" y1="224.6" x2="515.2" y2="226.2" stroke="#000" stroke-width="0.7" />
<text x="515.2" y="232.5" font-size="3.8" text-anchor="middle" class="s" >3</text>
<text transform="translate(369.1,187.8) rotate(-90)" font-size="6.9" text-anchor="middle" class="s">Apoptotic cells (%)</text>
<text x="456.0" y="243.1" font-size="7.2" text-anchor="middle" class="s" >rK5 (ng/mL)</text>
<polyline points="386.3,222.0 402.4,218.9 418.5,212.6 450.7,195.3 515.2,175.1" fill="none" stroke="#333" stroke-width="0.8" stroke-linejoin="round" stroke-linecap="round" />
<polyline points="386.3,222.4 402.4,218.9 418.5,219.2 450.7,215.6 515.2,206.3" fill="none" stroke="#222" stroke-width="0.8" stroke-linejoin="round" stroke-linecap="round" />
<circle cx="418.5" cy="212.6" r="1.9" fill="#fff" stroke="#333" stroke-width="0.6"/>
<circle cx="450.7" cy="195.3" r="1.9" fill="#fff" stroke="#333" stroke-width="0.6"/>
<circle cx="515.2" cy="175.1" r="1.9" fill="#fff" stroke="#333" stroke-width="0.6"/>
<rect x="384.6" y="220.7" width="3.4" height="3.4" fill="#000" stroke="#000" stroke-width="0.5"/>
<rect x="400.7" y="217.2" width="3.4" height="3.4" fill="#000" stroke="#000" stroke-width="0.5"/>
<rect x="416.8" y="217.5" width="3.4" height="3.4" fill="#000" stroke="#000" stroke-width="0.5"/>
<rect x="449.0" y="213.9" width="3.4" height="3.4" fill="#000" stroke="#000" stroke-width="0.5"/>
<rect x="513.5" y="204.6" width="3.4" height="3.4" fill="#000" stroke="#000" stroke-width="0.5"/>
<polygon points="515.2,155.1 513.5,156.8 515.2,158.5 516.9,156.8" fill="#000" stroke="#000" stroke-width="0.5"/>
<polygon points="515.2,216.7 513.6,219.6 516.8,219.6" fill="#000" stroke="#000" stroke-width="0.5"/>
</svg>
</body></html>
